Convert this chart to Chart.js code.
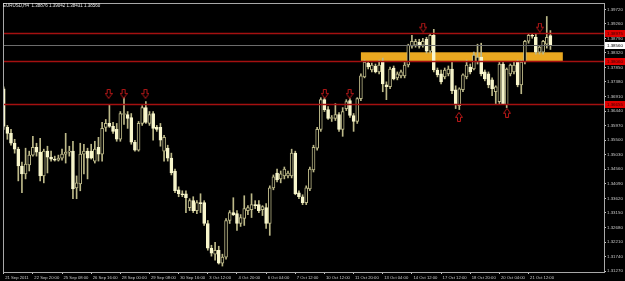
<!DOCTYPE html>
<html>
<head>
<meta charset="utf-8">
<script src="https://cdn.jsdelivr.net/npm/chart.js@4.4.0/dist/chart.umd.min.js"></script>
<style>
  html, body { margin: 0; padding: 0; background: #000; }
  canvas { display: block; }
</style>
</head>
<body>
<canvas id="chart" width="625" height="281"></canvas>
<script>
// EURUSD H4 candles
const opens = [
  1.37161,1.35913,1.35721,1.35401,1.35209,1.34665,1.34409,1.34697,1.35017,1.35273,
  1.35113,1.34345,1.35145,1.34953,1.34889,1.34857,1.34921,1.35049,1.35113,1.35145,
  1.33961,1.34089,1.35049,1.35145,1.35145,1.34825,1.35273,1.35049,1.35913,1.36041,
  1.35945,1.35849,1.35529,1.36329,1.36329,1.36233,1.35433,1.35177,1.36041,1.36553,
  1.36041,1.36361,1.35913,1.35913,1.35145,1.35241,1.34921,1.34505,1.33897,1.33769,
  1.33769,1.33321,1.33545,1.33225,1.33481,1.33481,1.32809,1.32009,1.31817,1.31945,
  1.31529,1.31721,1.32905,1.33161,1.33129,1.32809,1.32969,1.33225,1.33257,1.33417,
  1.33417,1.33257,1.33321,1.32809,1.33961,1.34441,1.34249,1.34345,1.34345,1.34345,
  1.35081,1.33801,1.33673,1.33481,1.33929,1.34537,1.35241,1.35849,1.36809,1.36489,
  1.36201,1.36201,1.36329,1.35849,1.36521,1.36777,1.36297,1.36105,1.36841,1.37545,
  1.37993,1.37769,1.37897,1.37705,1.38057,1.37289,1.37225,1.37833,1.37513,1.37577,
  1.37577,1.37929,1.38537,1.38569,1.38665,1.38569,1.38761,1.38377,1.38889,1.37769,
  1.37641,1.37545,1.37641,1.37801,1.37129,1.36617,1.37129,1.37545,1.37865,1.37801,
  1.38025,1.38185,1.37705,1.37641,1.37449,1.37065,1.36745,1.37961,1.36649,1.37641,
  1.37705,1.38025,1.37289,1.38025,1.38697,1.38889,1.38825,1.38345,1.38345,1.38601,
  1.38876
];
const highs = [
  1.37225,1.35977,1.35849,1.35529,1.35273,1.34793,1.35241,1.35145,1.35625,1.35401,
  1.35561,1.35209,1.35305,1.35145,1.34985,1.35017,1.35209,1.35721,1.35305,1.35465,
  1.34345,1.35401,1.35369,1.35241,1.35369,1.35465,1.35593,1.36073,1.36169,1.36649,
  1.36073,1.36041,1.36425,1.36873,1.36425,1.36361,1.35497,1.36105,1.36617,1.36745,
  1.36425,1.36425,1.35977,1.36041,1.35657,1.35337,1.35081,1.34569,1.33993,1.33865,
  1.33865,1.33609,1.33673,1.33545,1.33769,1.33545,1.32905,1.32105,1.32201,1.32073,
  1.31817,1.32969,1.33225,1.33641,1.33225,1.33097,1.33705,1.33385,1.33769,1.33545,
  1.33545,1.33385,1.33449,1.34025,1.34377,1.34569,1.34505,1.34633,1.34505,1.35209,
  1.35145,1.33865,1.33737,1.34025,1.34633,1.35337,1.35913,1.36873,1.36873,1.36585,
  1.36297,1.36681,1.36393,1.36553,1.36809,1.36841,1.36361,1.36873,1.37641,1.38089,
  1.38057,1.37993,1.37961,1.38089,1.38153,1.37385,1.37865,1.37897,1.37705,1.37769,
  1.38025,1.38601,1.38889,1.38761,1.38761,1.38793,1.38825,1.38953,1.39081,1.37833,
  1.37769,1.37833,1.37897,1.38025,1.37257,1.37193,1.37641,1.38089,1.37961,1.38345,
  1.38601,1.38633,1.37769,1.37705,1.37513,1.37257,1.38025,1.38025,1.37833,1.37961,
  1.38025,1.38089,1.38089,1.38729,1.38921,1.38953,1.38921,1.38537,1.38729,1.39497,
  1.39042
];
const lows = [
  1.35849,1.35529,1.35337,1.35081,1.34185,1.33801,1.34249,1.34505,1.34985,1.34985,
  1.34185,1.34121,1.34441,1.34825,1.34825,1.34825,1.34857,1.34761,1.34985,1.33609,
  1.33609,1.33865,1.34409,1.34249,1.34889,1.34761,1.34825,1.34825,1.35785,1.35913,
  1.35721,1.35465,1.35465,1.36009,1.35881,1.35369,1.35145,1.35145,1.35977,1.36041,
  1.35977,1.35497,1.35785,1.35305,1.34825,1.34825,1.34377,1.33801,1.33673,1.33673,
  1.33161,1.33225,1.33161,1.33129,1.33161,1.32745,1.31945,1.31753,1.31625,1.31497,
  1.31433,1.31657,1.32809,1.33065,1.32585,1.32713,1.32745,1.33097,1.33001,1.33289,
  1.33161,1.33065,1.32649,1.32425,1.33897,1.34153,1.34121,1.34249,1.34281,1.34281,
  1.33737,1.33609,1.33417,1.33417,1.33865,1.34473,1.35177,1.35785,1.36425,1.36169,
  1.36105,1.36137,1.35785,1.35625,1.36457,1.36233,1.35785,1.36041,1.36777,1.37513,
  1.37801,1.37705,1.37673,1.37641,1.37065,1.36809,1.37161,1.37449,1.37449,1.37513,
  1.37513,1.37865,1.38473,1.38505,1.38473,1.38505,1.38313,1.38313,1.37705,1.37545,
  1.37321,1.37481,1.37577,1.37001,1.36521,1.36489,1.37065,1.37481,1.37641,1.37769,
  1.37961,1.37577,1.37417,1.37193,1.36937,1.36681,1.36681,1.36649,1.36553,1.37577,
  1.37641,1.37225,1.37001,1.37961,1.38633,1.38793,1.38281,1.38281,1.38281,1.38473,
  1.38431
];
const closes = [
  1.35945,1.35721,1.35401,1.35209,1.34665,1.34409,1.34729,1.35017,1.35273,1.35113,
  1.34345,1.35145,1.34953,1.34889,1.34857,1.34921,1.35049,1.35113,1.35145,1.33929,
  1.34121,1.35049,1.35145,1.34921,1.34921,1.35209,1.35049,1.35881,1.36041,1.35945,
  1.35785,1.35529,1.36361,1.36361,1.36201,1.35433,1.35177,1.36041,1.36553,1.36073,
  1.36329,1.35881,1.35849,1.35497,1.35593,1.34921,1.34441,1.33865,1.33769,1.33737,
  1.33641,1.33545,1.33225,1.33481,1.33449,1.32809,1.32009,1.31849,1.31945,1.31529,
  1.31721,1.32905,1.33161,1.33097,1.32809,1.33001,1.33289,1.33321,1.33417,1.33385,
  1.33225,1.33353,1.32809,1.33961,1.34313,1.34217,1.34409,1.34569,1.34441,1.35081,
  1.33769,1.33673,1.33481,1.33961,1.34569,1.35273,1.35849,1.36809,1.36489,1.36201,
  1.36233,1.36329,1.35849,1.36425,1.36745,1.36297,1.36105,1.36841,1.37577,1.38025,
  1.37865,1.37929,1.37705,1.37929,1.37321,1.37225,1.37801,1.37481,1.37641,1.37705,
  1.37929,1.38569,1.38697,1.38697,1.38537,1.38697,1.38377,1.38889,1.37769,1.37609,
  1.37385,1.37769,1.37801,1.37097,1.36649,1.37161,1.37609,1.37929,1.37705,1.38249,
  1.38185,1.37641,1.37481,1.37289,1.37161,1.37225,1.37961,1.36681,1.37801,1.37929,
  1.37929,1.37289,1.38025,1.38697,1.38889,1.38857,1.38345,1.38505,1.38697,1.38825,
  1.38560
];

// time axis: one label every 8 bars
const timeTickBars = [0, 8, 16, 24, 32, 40, 48, 56, 64, 72, 80, 88, 96, 104, 112, 120, 128, 136, 144];
const timeTickLabels = ['21 Sep 2011', '22 Sep 20:00', '25 Sep 08:00', '26 Sep 16:00', '28 Sep 00:00',
  '29 Sep 08:00', '30 Sep 16:00', '3 Oct 12:00', '4 Oct 20:00', '6 Oct 04:00', '7 Oct 12:00',
  '10 Oct 12:00', '11 Oct 20:00', '13 Oct 04:00', '14 Oct 12:00', '17 Oct 12:00', '18 Oct 20:00',
  '20 Oct 04:00', '21 Oct 12:00'];
const priceTicks = [1.31270, 1.31740, 1.32210, 1.32680, 1.33150, 1.33620, 1.34090, 1.34560, 1.35030,
  1.35500, 1.35970, 1.36440, 1.36910, 1.37380, 1.37850, 1.38320, 1.38790, 1.39260, 1.39720];

// drawn objects
const levelPrices = [1.38975, 1.38060, 1.36655];
const bidPrice = 1.38560;
const zoneBars = [98, 153.4];
const zonePrices = [1.38340, 1.38060];
const downArrowBars = [28.8, 32.9, 38.9, 88.1, 94.9, 115.1, 147.1];
const downArrowPrices = [1.36995, 1.36995, 1.36995, 1.36995, 1.36995, 1.39135, 1.39135];
const upArrowBars = [124.9, 138.1];
const upArrowPrices = [1.36255, 1.36385];

const WICK = '#bcb888';
const BEAR = '#f8f6cc';
const AXIS = '#c8c8c8';
const LEVEL = '#a41010';
const FONT = '"Liberation Sans", Arial, sans-serif';

Chart.defaults.font.family = FONT;

function makeArrow(down) {
  const c = document.createElement('canvas');
  c.width = 8; c.height = 10;
  const g = c.getContext('2d');
  const pts = [[2.5, 0.5], [5.5, 0.5], [5.5, 4.5], [7.5, 4.5], [4, 9.5], [0.5, 4.5], [2.5, 4.5]];
  g.beginPath();
  pts.forEach(([x, y], k) => {
    const yy = down ? y : 10 - y;
    if (k) g.lineTo(x, yy); else g.moveTo(x, yy);
  });
  g.closePath();
  g.fillStyle = '#000';
  g.fill();
  g.strokeStyle = '#b81818';
  g.lineWidth = 1;
  g.stroke();
  return c;
}

const isBear = i => closes[i] < opens[i];

const wickData = highs.map((h, i) => ({ x: i, y: [lows[i], h] }));
const bodyData = opens.map((o, i) => ({ x: i, y: [o, closes[i]] }));
const downData = downArrowBars.map((b, i) => ({ x: b, y: downArrowPrices[i] }));
const upData = upArrowBars.map((b, i) => ({ x: b, y: upArrowPrices[i] }));

// no label overhang padding, so the plot fills the frame exactly
const noPad = s => { s.paddingTop = 0; s.paddingBottom = 0; s.paddingLeft = 0; s.paddingRight = 0; };

const mt4Plugin = {
  id: 'mt4',
  beforeDraw(chart) {
    const ctx = chart.ctx;
    ctx.save();
    ctx.fillStyle = '#000';
    ctx.fillRect(0, 0, chart.width, chart.height);
    ctx.restore();
  },
  beforeDatasetsDraw(chart) {
    const { ctx, scales: { x, y } } = chart;
    const x0 = x.getPixelForValue(zoneBars[0]);
    const x1 = x.getPixelForValue(zoneBars[1]);
    const y0 = y.getPixelForValue(zonePrices[0]);
    const y1 = y.getPixelForValue(zonePrices[1]);
    ctx.save();
    ctx.fillStyle = '#eaa820';
    ctx.fillRect(x0, y0, x1 - x0, y1 - y0);
    ctx.restore();
  },
  afterDatasetsDraw(chart) {
    const { ctx, chartArea: a, scales: { y } } = chart;
    ctx.save();
    ctx.lineWidth = 1;
    ctx.strokeStyle = '#6c6c6c';
    let py = Math.round(y.getPixelForValue(bidPrice)) + 0.5;
    ctx.beginPath(); ctx.moveTo(a.left, py); ctx.lineTo(a.right, py); ctx.stroke();
    ctx.strokeStyle = LEVEL;
    ctx.lineWidth = 1.5;
    levelPrices.forEach(p => {
      py = Math.round(y.getPixelForValue(p)) + 0.5;
      ctx.beginPath(); ctx.moveTo(a.left, py); ctx.lineTo(a.right, py); ctx.stroke();
    });
    ctx.restore();
  },
  afterDraw(chart) {
    const { ctx, chartArea: a, scales: { y } } = chart;
    ctx.save();
    // frame
    ctx.strokeStyle = '#a8a8a8';
    ctx.lineWidth = 1;
    ctx.strokeRect(a.left - 0.5, a.top - 0.5, a.right - a.left + 1, a.bottom - a.top + 1);

    // price tags on the axis
    ctx.font = '4.4px ' + FONT;
    ctx.textBaseline = 'middle';
    ctx.textAlign = 'left';
    const tag = (p, bg, fg) => {
      const py = Math.round(y.getPixelForValue(p));
      ctx.fillStyle = bg;
      ctx.fillRect(a.right + 1, py - 3, chart.width - a.right - 1, 7);
      ctx.fillStyle = fg;
      ctx.fillText(p.toFixed(5), a.right + 3, py + 0.5);
    };
    levelPrices.forEach(p => tag(p, '#e00000', '#3a0000'));
    tag(bidPrice, '#ffffff', '#000000');

    // header
    const n = closes.length - 1;
    ctx.fillStyle = '#e8e8e8';
    ctx.font = '4.5px ' + FONT;
    ctx.fillText('EURUSD,H4  ' + [opens[n], highs[n], lows[n], closes[n]].map(v => v.toFixed(5)).join(' '), 3, 6);
    ctx.restore();
  }
};

new Chart(document.getElementById('chart'), {
  type: 'bar',
  data: {
    datasets: [
      { type: 'bar', data: wickData, backgroundColor: WICK, borderWidth: 0, barThickness: 1, grouped: false, order: 3 },
      {
        type: 'bar', data: bodyData,
        backgroundColor: c => isBear(c.dataIndex) ? BEAR : '#000',
        borderColor: c => isBear(c.dataIndex) ? BEAR : WICK,
        borderWidth: 1, borderSkipped: false, barThickness: 3, minBarLength: 1, grouped: false, order: 2
      },
      // tiny radius keeps the arrow images from adding layout overflow
      { type: 'scatter', data: downData, pointStyle: makeArrow(true), pointRadius: 0.2, pointBorderWidth: 0, clip: false, order: 1 },
      { type: 'scatter', data: upData, pointStyle: makeArrow(false), pointRadius: 0.2, pointBorderWidth: 0, clip: false, order: 1 }
    ]
  },
  options: {
    responsive: false,
    animation: false,
    devicePixelRatio: 1,
    layout: { padding: { left: 2, top: 1, right: 0, bottom: 0 } },
    plugins: { legend: { display: false }, tooltip: { enabled: false } },
    scales: {
      x: {
        type: 'linear', min: 0.08, max: 164.7, offset: false,
        afterBuildTicks: s => { s.ticks = timeTickBars.map(v => ({ value: v })); },
        afterFit: s => { s.height = 9; noPad(s); },
        grid: { drawOnChartArea: false, drawTicks: true, tickLength: 2, color: AXIS, offset: false },
        border: { display: false },
        ticks: {
          color: AXIS, font: { size: 4.2 }, padding: 1, align: 'start', labelOffset: 1.5,
          maxRotation: 0, minRotation: 0, autoSkip: false,
          callback: (v, k) => timeTickLabels[k]
        }
      },
      y: {
        position: 'right', min: 1.31241, max: 1.39900,
        afterBuildTicks: s => { s.ticks = priceTicks.map(v => ({ value: v })); },
        afterFit: s => { s.width = 21; noPad(s); },
        grid: { drawOnChartArea: false, tickLength: 2, color: AXIS },
        border: { display: false },
        ticks: { color: AXIS, font: { size: 4.4 }, padding: 1, autoSkip: false, callback: v => v.toFixed(5) }
      }
    }
  },
  plugins: [mt4Plugin]
});
</script>
</body>
</html>
